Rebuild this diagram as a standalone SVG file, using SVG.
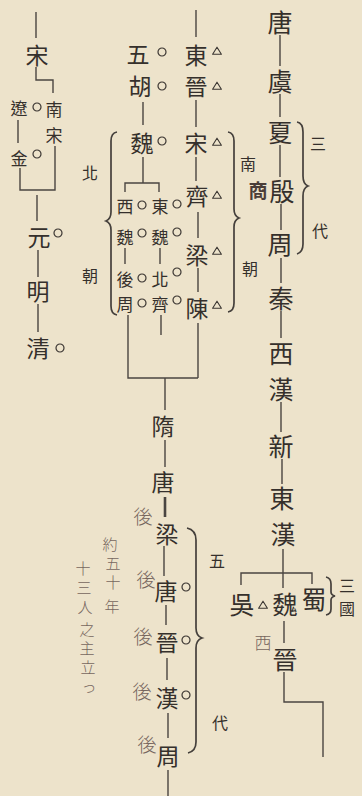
<svg xmlns="http://www.w3.org/2000/svg" width="362" height="796" viewBox="0 0 362 796">
<defs>
<style>
.t{font-family:"Noto Sans CJK TC","Noto Sans CJK JP",sans-serif;fill:#35302c;text-anchor:middle;dominant-baseline:central}
.L{font-size:25px}
.M{font-size:23px}
.S{font-size:17px}
.lab{font-size:16px}
.h{font-family:"Noto Sans CJK JP","Noto Sans CJK TC",sans-serif;fill:#76665e;text-anchor:middle;dominant-baseline:central;font-weight:300}
.c path{stroke:#4a4541;stroke-width:1.4;fill:none}
.br path{stroke:#45403c;stroke-width:1.7;fill:none}
</style>
<circle id="o" r="4" fill="none" stroke="#3b3632" stroke-width="1.2"/>
<path id="tri" d="M0,-3.8 L4.4,3.3 L-4.4,3.3 Z" fill="none" stroke="#3b3632" stroke-width="1.1" stroke-linejoin="round"/>
</defs>
<rect width="362" height="796" fill="#ede3cb"/>

<g id="connectors" class="c">
<!-- right column -->
<path d="M280,35 V66 M280,94 V117 M280,145 V177 M281,204 V230 M281,258 V283 M281,311 V338 M281,402 V432 M282,459 V484 M283,549 V573"/>
<path d="M241,585 V573 H312 V584 M283,573 V588"/>
<path d="M284,621 V643 M284,672 V702 H323 V757"/>
<!-- middle column -->
<path d="M196,10 V37 M196,100 V127 M196,157 V181 M198,212 V238 M198,268 V292 M198,323 V378"/>
<path d="M128,315 V378 H198 M161,315 V335 M165,378 V410"/>
<!-- five barbarians / northern -->
<path d="M143,102 V125 M143,157 V183 M125,192 V183 H159 V192 M125,248 V264 M160,248 V264"/>
<!-- lower column -->
<path d="M165,440 V467 M164,546 V576 M166,605 V625 M167,658 V680 M168,713 V738 M168,770 V796"/>
<path d="M165,497 V517" style="stroke-width:2.6"/>
<!-- left column -->
<path d="M36,12 V38 M36,67 V80 H53 V93 M18,120 V143 M20,168 V190 H55 V146 M37,195 V221 M38,250 V277 M38,304 V332"/>
</g>

<g id="braces" class="br">
<path id="brace-sandai" d="M297,122 Q303,123 303,132 V176 Q303,184 308,186 Q303,188 303,196 V244 Q303,252 297,254"/>
<path id="brace-nanchao" d="M228,132 Q234,133 234,141 V209 Q234,216 239,218 Q234,220 234,227 V303 Q234,311 228,312"/>
<path id="brace-beichao" d="M117,132 Q111,133 111,141 V212 Q111,219 106,221 Q111,223 111,230 V306 Q111,314 117,315"/>
<path id="brace-wudai" d="M187,528 Q196,530 196,540 V628 Q196,636 202,638 Q196,640 196,648 V742 Q196,751 188,753"/>
<path id="brace-sanguo" d="M326,577 Q331,578 331,584 V592 Q331,595 335,596 Q331,597 331,600 V609 Q331,614 326,615"/>
</g>

<!-- right column -->
<g id="n-tang"><text class="t L" x="280" y="21">唐</text></g>
<g id="n-yu"><text class="t L" x="280" y="80">虞</text></g>
<g id="n-xia"><text class="t L" x="280" y="131">夏</text></g>
<g id="n-yin"><text class="t L" x="282" y="190">殷</text><text class="h" x="258" y="189" style="font-size:19px;font-weight:700;fill:#4a3d38">商</text></g>
<g id="n-zhou"><text class="t L" x="280" y="243">周</text></g>
<g id="n-qin"><text class="t L" x="281" y="297">秦</text></g>
<g id="n-xihan"><text class="t L" x="281" y="352">西</text><text class="t L" x="281" y="388">漢</text></g>
<g id="n-xin"><text class="t L" x="281" y="445">新</text></g>
<g id="n-donghan"><text class="t L" x="282" y="497">東</text><text class="t L" x="283" y="533">漢</text></g>
<g id="n-wu"><text class="t L" x="242" y="603">吳</text><use href="#tri" x="263" y="605"/></g>
<g id="n-wei-sg"><text class="t L" x="285" y="603">魏</text></g>
<g id="n-shu"><text class="t L" x="314" y="598">蜀</text></g>
<g id="n-jin"><text class="t L" x="285" y="658">晉</text><text class="h" x="263" y="641" style="font-size:17px">西</text></g>
<g id="lab-sandai"><text class="t lab" x="318" y="143">三</text><text class="t lab" x="320" y="230">代</text></g>
<g id="lab-sanguo"><text class="t lab" x="347" y="585">三</text><text class="t lab" x="347" y="608">國</text></g>

<!-- middle column: southern -->
<g id="n-dongjin"><text class="t M" x="196" y="54">東</text><use href="#tri" x="217" y="51"/><text class="t M" x="196" y="85">晉</text><use href="#tri" x="217" y="86"/></g>
<g id="n-song-s"><text class="t M" x="196" y="142">宋</text><use href="#tri" x="217" y="142"/></g>
<g id="n-qi-s"><text class="t M" x="197" y="195">齊</text><use href="#tri" x="217" y="195"/></g>
<g id="n-liang-s"><text class="t M" x="197" y="254">梁</text><use href="#tri" x="217" y="251"/></g>
<g id="n-chen"><text class="t M" x="197" y="307">陳</text><use href="#tri" x="217" y="305"/></g>
<g id="lab-nanchao"><text class="t lab" x="248" y="163">南</text><text class="t lab" x="250" y="268">朝</text></g>

<!-- northern -->
<g id="n-wuhu"><text class="t M" x="138" y="53">五</text><use href="#o" x="162" y="52"/><text class="t M" x="140" y="85">胡</text><use href="#o" x="162" y="86"/></g>
<g id="n-wei-n"><text class="t M" x="142" y="142">魏</text><use href="#o" x="162" y="141"/></g>
<g id="n-xiwei"><text class="t S" x="125" y="205">西</text><use href="#o" x="142" y="205"/><text class="t S" x="125" y="236">魏</text><use href="#o" x="142" y="233"/></g>
<g id="n-dongwei"><text class="t S" x="160" y="205">東</text><use href="#o" x="177" y="204"/><text class="t S" x="160" y="236">魏</text><use href="#o" x="177" y="232"/></g>
<g id="n-houzhou"><text class="t S" x="125" y="278">後</text><use href="#o" x="142" y="278"/><text class="t S" x="125" y="303">周</text><use href="#o" x="142" y="303"/></g>
<g id="n-beiqi"><text class="t S" x="160" y="278">北</text><use href="#o" x="177" y="272"/><text class="t S" x="160" y="303">齊</text><use href="#o" x="177" y="300"/></g>
<g id="lab-beichao"><text class="t lab" x="90" y="172">北</text><text class="t lab" x="90" y="275">朝</text></g>

<!-- lower column -->
<g id="n-sui"><text class="t M" x="163" y="425">隋</text></g>
<g id="n-tang2"><text class="t M" x="163" y="481">唐</text></g>
<g id="n-houliang"><text class="h" x="143" y="515" style="font-size:19px">後</text><text class="t M" x="167" y="533">梁</text></g>
<g id="n-houtang"><text class="h" x="146" y="578" style="font-size:19px">後</text><text class="t M" x="166" y="590">唐</text><use href="#o" x="186" y="587"/></g>
<g id="n-houjin"><text class="h" x="143" y="635" style="font-size:19px">後</text><text class="t M" x="167" y="641">晉</text><use href="#o" x="186" y="640"/></g>
<g id="n-houhan"><text class="h" x="142" y="690" style="font-size:19px">後</text><text class="t M" x="167" y="697">漢</text><use href="#o" x="186" y="695"/></g>
<g id="n-houzhou5"><text class="h" x="147" y="743" style="font-size:19px">後</text><text class="t M" x="168" y="755">周</text></g>
<g id="lab-wudai"><text class="t lab" x="217" y="560">五</text><text class="t lab" x="220" y="722">代</text></g>

<!-- handwritten note -->
<g id="note">
<text class="h" style="font-size:15px"><tspan x="110" y="543">約</tspan><tspan x="113" y="562">五</tspan><tspan x="113" y="581">十</tspan><tspan x="112" y="605">年</tspan></text>
<text class="h" style="font-size:15px"><tspan x="83" y="567">十</tspan><tspan x="84" y="586">三</tspan><tspan x="85" y="606">人</tspan><tspan x="87" y="628">之</tspan><tspan x="87" y="647">主</tspan><tspan x="88" y="666">立</tspan><tspan x="89" y="685">っ</tspan></text>
</g>

<!-- left column -->
<g id="n-song"><text class="t M" x="37" y="54">宋</text></g>
<g id="n-liao"><text class="t S" x="19" y="107">遼</text><use href="#o" x="37" y="107"/></g>
<g id="n-nansong"><text class="t S" x="54" y="108">南</text><text class="t S" x="54" y="134">宋</text></g>
<g id="n-jinn"><text class="t S" x="19" y="157">金</text><use href="#o" x="37" y="154"/></g>
<g id="n-yuan"><text class="t M" x="39" y="236">元</text><use href="#o" x="58" y="233"/></g>
<g id="n-ming"><text class="t M" x="38" y="290">明</text></g>
<g id="n-qing"><text class="t M" x="38" y="347">清</text><use href="#o" x="60" y="348"/></g>
</svg>
